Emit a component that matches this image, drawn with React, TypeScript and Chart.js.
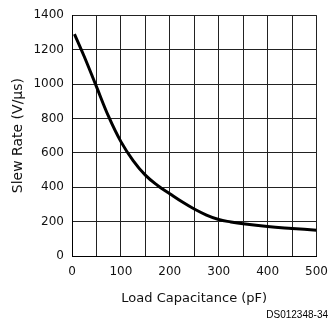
import React, { useEffect, useRef } from "react";
import { Chart, registerables } from "chart.js";

Chart.register(...registerables);

const loadCapacitance = [5, 25, 50, 75, 100, 125, 150, 175, 200, 225, 250, 275, 300, 325, 350, 400, 450, 500];
const slewRate = [1290, 1160, 985, 810, 665, 555, 470, 410, 362, 315, 273, 238, 212, 198, 187, 171, 160, 150];
const xTickLabels = ["0", "100", "200", "300", "400", "500"];
const yTickLabels = ["0", "200", "400", "600", "800", "1000", "1200", "1400"];

const FONT = "'DejaVu Sans', sans-serif";

export default function App() {
  const ref = useRef<HTMLCanvasElement | null>(null);

  useEffect(() => {
    document.body.style.margin = "0";
    const canvas = ref.current;
    if (!canvas) return;
    const chart = new Chart(canvas, {
      type: "line",
      data: {
        datasets: [
          {
            data: loadCapacitance.map((x, i) => ({ x, y: slewRate[i] })),
            borderColor: "#000",
            borderWidth: 3,
            pointRadius: 0,
            tension: 0.4,
            fill: false,
          },
        ],
      },
      options: {
        animation: false,
        responsive: false,
        maintainAspectRatio: false,
        layout: { padding: { top: 13, right: 0, left: 0, bottom: 0 } },
        plugins: {
          legend: { display: false },
          tooltip: { enabled: false },
          title: {
            display: true,
            position: "bottom",
            align: "end",
            text: "DS012348-34",
            color: "#000",
            font: { family: "'Liberation Sans', Arial, sans-serif", size: 10, weight: "normal" },
            padding: { top: 0, bottom: 5 },
          },
        },
        scales: {
          x: {
            type: "linear",
            min: 0,
            max: 500,
            afterFit: (s: any) => {
              s.height = 53;
              s.paddingRight = 11.5;
              s.paddingLeft = 0;
            },
            ticks: {
              stepSize: 50,
              autoSkip: false,
              maxRotation: 0,
              padding: 9,
              color: "#111",
              font: { family: FONT, size: 12 },
              callback: (v: any) => {
                const s = String(v);
                return xTickLabels.includes(s) ? s : "";
              },
            },
            grid: { color: "#222", lineWidth: 1, drawTicks: false },
            border: { color: "#000", width: 1 },
            title: {
              display: true,
              text: "Load Capacitance (pF)",
              color: "#111",
              font: { family: FONT, size: 13 },
              padding: { top: 0, bottom: 3 },
            },
          },
          y: {
            type: "linear",
            min: 0,
            max: 1400,
            afterFit: (s: any) => {
              s.width = 72;
            },
            ticks: {
              stepSize: 200,
              autoSkip: false,
              padding: 8,
              color: "#111",
              font: { family: FONT, size: 12 },
              callback: (v: any) => {
                const s = String(v);
                return yTickLabels.includes(s) ? s : "";
              },
            },
            grid: { color: "#222", lineWidth: 1, drawTicks: false },
            border: { color: "#000", width: 1 },
            title: {
              display: true,
              text: "Slew Rate (V/µs)",
              color: "#111",
              font: { family: FONT, size: 14 },
              padding: { top: 10, bottom: 0 },
            },
          },
        },
      },
    });
    return () => chart.destroy();
  }, []);

  return (
    <div style={{ position: "relative", width: 328, height: 326 }}>
      <canvas ref={ref} width={328} height={326} style={{ display: "block", width: 328, height: 326 }} />
    </div>
  );
}
